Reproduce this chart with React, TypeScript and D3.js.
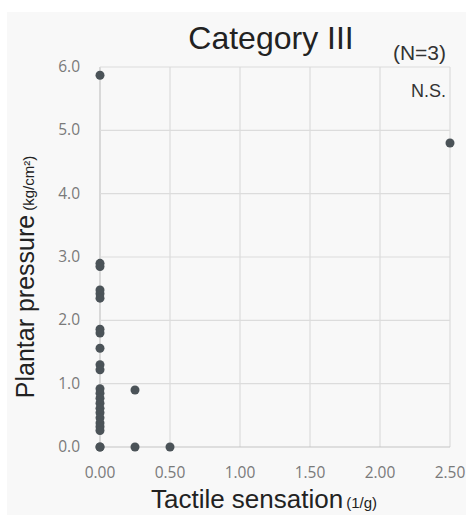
import { useEffect, useRef } from 'react';
import * as d3 from 'd3';

// tactile sensation (1/g) and plantar pressure (kg/cm2)
const xVals = [0, 0, 0, 0, 0, 0, 0, 0, 0, 0, 0, 0, 0, 0, 0, 0, 0, 0, 0, 0, 0, 0, 0, 0.25, 0.25, 0.5, 2.5];
const yVals = [5.87, 2.9, 2.85, 2.48, 2.42, 2.35, 1.86, 1.8, 1.56, 1.3, 1.22, 0.92, 0.85, 0.77, 0.69, 0.61, 0.54, 0.46, 0.38, 0.32, 0.26, 0.0, 0.0, 0.9, 0.0, 0.0, 4.8];
const xTicks = [0, 0.5, 1.0, 1.5, 2.0, 2.5];
const yTicks = [0, 1, 2, 3, 4, 5, 6];

function App() {
  const svgRef = useRef<SVGSVGElement>(null);

  useEffect(() => {
    const W = 466;
    const H = 515;
    const margin = { top: 67, right: 16, bottom: 68, left: 100 };
    const width = W - margin.left - margin.right;
    const height = H - margin.top - margin.bottom;

    d3.select(svgRef.current).selectAll('*').remove();
    const root = d3.select(svgRef.current).attr('width', W).attr('height', H);

    // soft gray backdrop
    root.append('rect').attr('x', 7).attr('y', 12).attr('width', W - 7).attr('height', H - 12).attr('fill', '#f8f8f8');

    const svg = root.append('g').attr('transform', `translate(${margin.left},${margin.top})`);

    const x = d3.scaleLinear().domain([0, 2.5]).range([0, width]);
    const y = d3.scaleLinear().domain([0, 6]).range([height, 0]);

    // grid
    svg.selectAll('.vgrid')
      .data(xTicks)
      .join('line')
      .attr('x1', d => x(d)).attr('x2', d => x(d))
      .attr('y1', 0).attr('y2', height)
      .attr('stroke', d => (d === 0 ? '#c4c4c4' : '#dcdcdc'))
      .attr('stroke-width', 1.2);
    svg.selectAll('.hgrid')
      .data(yTicks)
      .join('line')
      .attr('x1', 0).attr('x2', width)
      .attr('y1', d => y(d)).attr('y2', d => y(d))
      .attr('stroke', d => (d === 0 ? '#c4c4c4' : '#dcdcdc'))
      .attr('stroke-width', 1.2);

    // tick labels
    svg.selectAll('.xt')
      .data(xTicks)
      .join('text')
      .attr('x', d => x(d)).attr('y', height + 31)
      .attr('text-anchor', 'middle')
      .attr('fill', '#7a7a7a')
      .style('font-family', '"Open Sans", sans-serif')
      .style('font-size', '15.5px')
      .text(d => d3.format('.2f')(d));
    svg.selectAll('.yt')
      .data(yTicks)
      .join('text')
      .attr('x', -20).attr('y', d => y(d) + 5)
      .attr('text-anchor', 'end')
      .attr('fill', '#7a7a7a')
      .style('font-family', '"Open Sans", sans-serif')
      .style('font-size', '15.5px')
      .text(d => d3.format('.1f')(d));

    // points
    svg.selectAll('.pt')
      .data(xVals.map((v, i) => [v, yVals[i]]))
      .join('circle')
      .attr('cx', d => x(d[0]))
      .attr('cy', d => y(d[1]))
      .attr('r', 4.5)
      .attr('fill', '#4b5358');

    const font = '"Liberation Sans", Arial, sans-serif';

    // title
    root.append('text')
      .attr('x', 271).attr('y', 49)
      .attr('text-anchor', 'middle')
      .attr('fill', '#222')
      .style('font-family', font)
      .style('font-size', '32px')
      .text('Category III');
    root.append('text')
      .attr('x', 446).attr('y', 60)
      .attr('text-anchor', 'end')
      .attr('fill', '#333')
      .style('font-family', font)
      .style('font-size', '21px')
      .text('(N=3)');
    root.append('text')
      .attr('x', 446).attr('y', 97)
      .attr('text-anchor', 'end')
      .attr('fill', '#333')
      .style('font-family', font)
      .style('font-size', '18px')
      .text('N.S.');

    // x axis title
    const xt = root.append('text')
      .attr('x', 264).attr('y', 508)
      .attr('text-anchor', 'middle')
      .attr('fill', '#222')
      .style('font-family', font);
    xt.append('tspan').style('font-size', '26px').text('Tactile sensation');
    xt.append('tspan').attr('dx', 3).style('font-size', '15px').text('(1/g)');

    // y axis title
    const yt = root.append('text')
      .attr('transform', 'translate(34,277) rotate(-90)')
      .attr('text-anchor', 'middle')
      .attr('fill', '#222')
      .style('font-family', font);
    yt.append('tspan').style('font-size', '25px').text('Plantar pressure');
    yt.append('tspan').attr('dx', 4).style('font-size', '15px').text('(kg/cm²)');
  }, []);

  return (
    <svg ref={svgRef} style={{ position: 'absolute', left: 0, top: 0 }}></svg>
  );
}

export default App;
